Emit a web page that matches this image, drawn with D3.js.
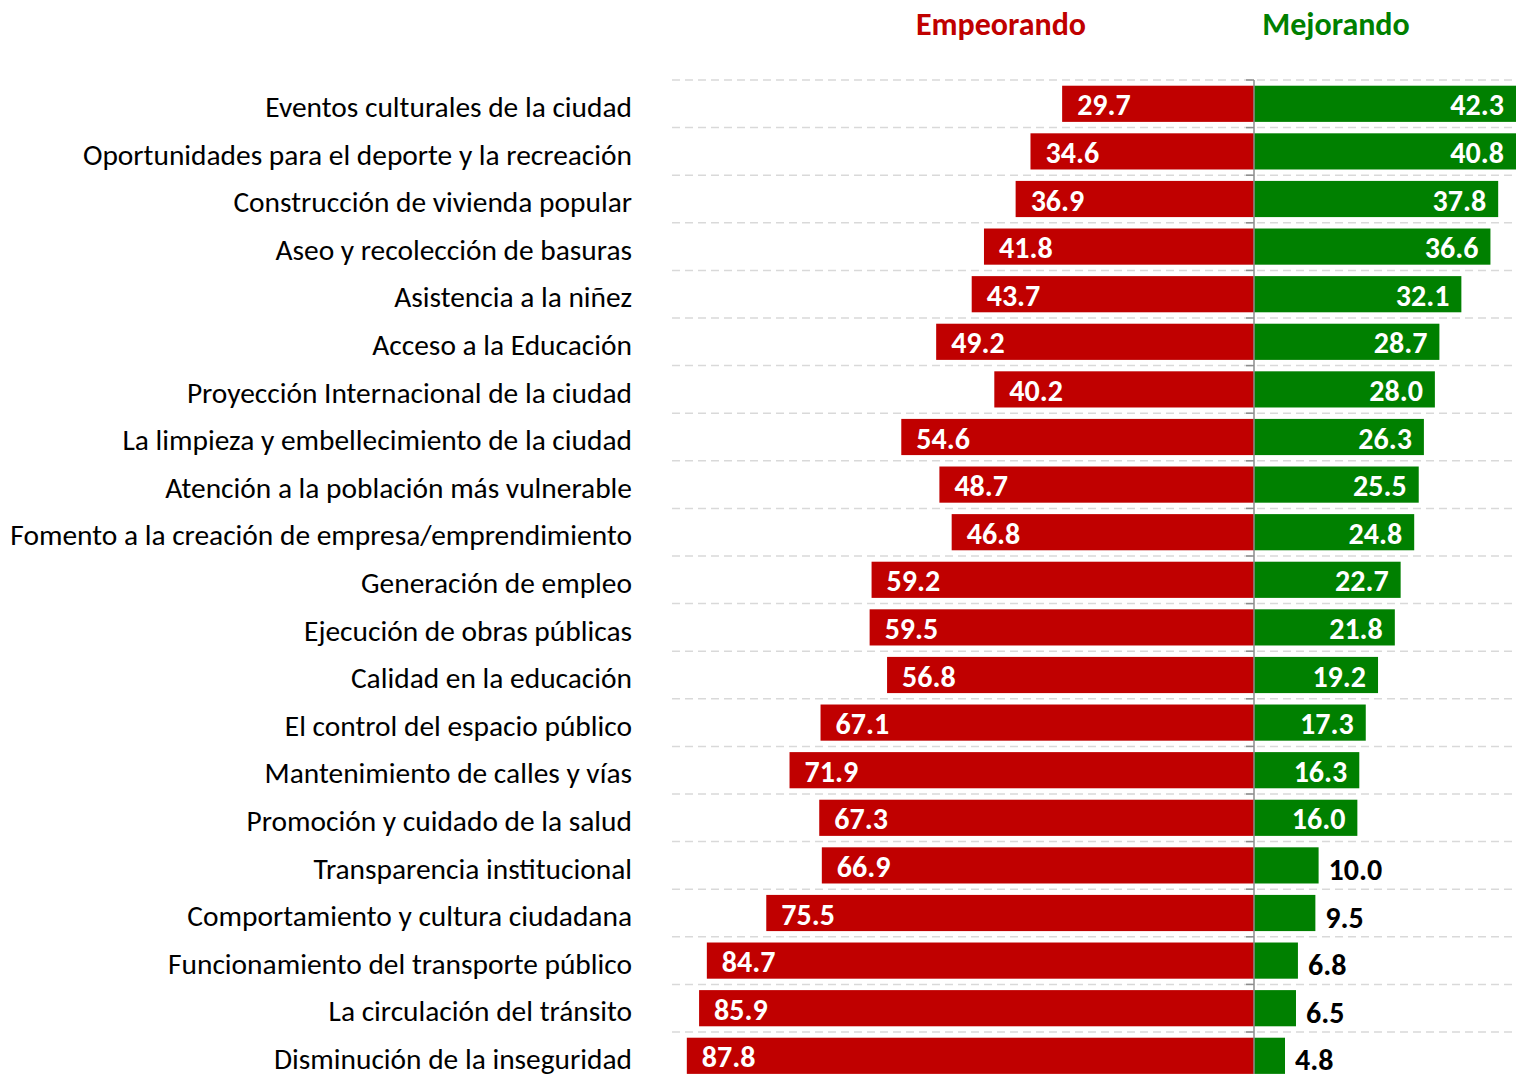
<!DOCTYPE html>
<html lang="es">
<head>
<meta charset="UTF-8">
<title>Empeorando / Mejorando</title>
<script src="https://cdn.jsdelivr.net/npm/d3@7"></script>
<style>
  * { margin: 0; padding: 0; }
  body { background: #fff; }
  svg { display: block; font-family: Carlito, Calibri, Lato, sans-serif; }
</style>
</head>
<body>
<svg></svg>
<script>
  // datos (de arriba hacia abajo)
  const categorias = [
    'Eventos culturales de la ciudad',
    'Oportunidades para el deporte y la recreación',
    'Construcción de vivienda popular',
    'Aseo y recolección de basuras',
    'Asistencia a la niñez',
    'Acceso a la Educación',
    'Proyección Internacional de la ciudad',
    'La limpieza y embellecimiento de la ciudad',
    'Atención a la población más vulnerable',
    'Fomento a la creación de empresa/emprendimiento',
    'Generación de empleo',
    'Ejecución de obras públicas',
    'Calidad en la educación',
    'El control del espacio público',
    'Mantenimiento de calles y vías',
    'Promoción y cuidado de la salud',
    'Transparencia institucional',
    'Comportamiento y cultura ciudadana',
    'Funcionamiento del transporte público',
    'La circulación del tránsito',
    'Disminución de la inseguridad'
  ]
  const empeorando = [29.7, 34.6, 36.9, 41.8, 43.7, 49.2, 40.2, 54.6, 48.7, 46.8, 59.2, 59.5, 56.8, 67.1, 71.9, 67.3, 66.9, 75.5, 84.7, 85.9, 87.8]
  const mejorando = [42.3, 40.8, 37.8, 36.6, 32.1, 28.7, 28.0, 26.3, 25.5, 24.8, 22.7, 21.8, 19.2, 17.3, 16.3, 16.0, 10.0, 9.5, 6.8, 6.5, 4.8]
  const series = ['Empeorando', 'Mejorando']

  const W = 1516, H = 1074
  const rojo = '#C00000', verde = '#008000'

  const svg = d3.select('svg').attr('width', W).attr('height', H)

  // escala divergente: negativo = empeorando
  const x = d3.scaleLinear().domain([-100, 100]).range([608, 1900])
  const step = 47.6
  const y = d3.scaleBand().domain(categorias)
    .range([80, 80 + step * categorias.length])
    .paddingInner(0.24).paddingOuter(0.12)

  const x0 = x(0)
  const bordes = d3.range(categorias.length + 1).map(i => 80 + i * step)

  // lineas de cuadricula punteadas
  svg.append('g').selectAll('line').data(bordes).join('line')
    .attr('x1', 672).attr('x2', W)
    .attr('y1', d => d).attr('y2', d => d)
    .attr('stroke', '#d9d9d9').attr('stroke-width', 1.5)
    .attr('stroke-dasharray', '8,5')

  const filas = categorias.map((c, i) => ({ c, e: empeorando[i], m: mejorando[i] }))

  // barras empeorando
  svg.append('g').selectAll('rect').data(filas).join('rect')
    .attr('x', d => x(-d.e)).attr('width', d => x0 - x(-d.e))
    .attr('y', d => y(d.c)).attr('height', y.bandwidth())
    .attr('fill', rojo)

  // barras mejorando
  svg.append('g').selectAll('rect').data(filas).join('rect')
    .attr('x', x0).attr('width', d => x(d.m) - x0)
    .attr('y', d => y(d.c)).attr('height', y.bandwidth())
    .attr('fill', verde)

  // eje central
  const eje = svg.append('g')
  eje.append('line')
    .attr('x1', x0).attr('x2', x0).attr('y1', 80).attr('y2', H)
    .attr('stroke', '#8c8c8c').attr('stroke-width', 1.5)
  eje.selectAll('.tick').data(bordes).join('line')
    .attr('x1', x0 - 8).attr('x2', x0)
    .attr('y1', d => d).attr('y2', d => d)
    .attr('stroke', '#8c8c8c').attr('stroke-width', 1.5)

  // etiquetas de valores
  const fmt = d3.format('.1f')
  svg.append('g').selectAll('text').data(filas).join('text')
    .attr('x', d => x(-d.e) + 15)
    .attr('y', d => y(d.c) + y.bandwidth() / 2 + 1)
    .attr('dy', '0.35em')
    .attr('fill', '#fff').attr('font-weight', 'bold').attr('font-size', 30)
    .text(d => fmt(d.e))

  svg.append('g').selectAll('text').data(filas).join('text')
    .attr('x', d => d.m >= 12 ? Math.min(x(d.m), W) - 12 : x(d.m) + 10)
    .attr('text-anchor', d => d.m >= 12 ? 'end' : 'start')
    .attr('y', d => y(d.c) + y.bandwidth() / 2 + (d.m >= 12 ? 1 : 4))
    .attr('dy', '0.35em')
    .attr('fill', d => d.m >= 12 ? '#fff' : '#000')
    .attr('font-weight', 'bold').attr('font-size', 30)
    .text(d => fmt(d.m))

  // categorias
  const etiquetas = svg.append('g').selectAll('text').data(categorias).join('text')
    .attr('x', 632)
    .attr('y', d => y(d) + y.bandwidth() / 2 + 3)
    .attr('dy', '0.35em')
    .attr('text-anchor', 'end')
    .attr('fill', '#000').attr('font-size', 26)
    .text(d => d)
  // ajustar tamaño para que la mas larga ocupe ~622px
  let maxW = 0
  etiquetas.each(function () { maxW = Math.max(maxW, this.getComputedTextLength()) })
  etiquetas.attr('font-size', 26 * 622 / maxW)

  // titulos de series
  svg.append('g').selectAll('text').data(series).join('text')
    .attr('x', (d, i) => i === 0 ? 1001 : 1336)
    .attr('y', 24).attr('dy', '0.35em')
    .attr('text-anchor', 'middle')
    .attr('font-weight', 'bold').attr('font-size', 32)
    .attr('fill', (d, i) => i === 0 ? rojo : verde)
    .text(d => d)
</script>
</body>
</html>
